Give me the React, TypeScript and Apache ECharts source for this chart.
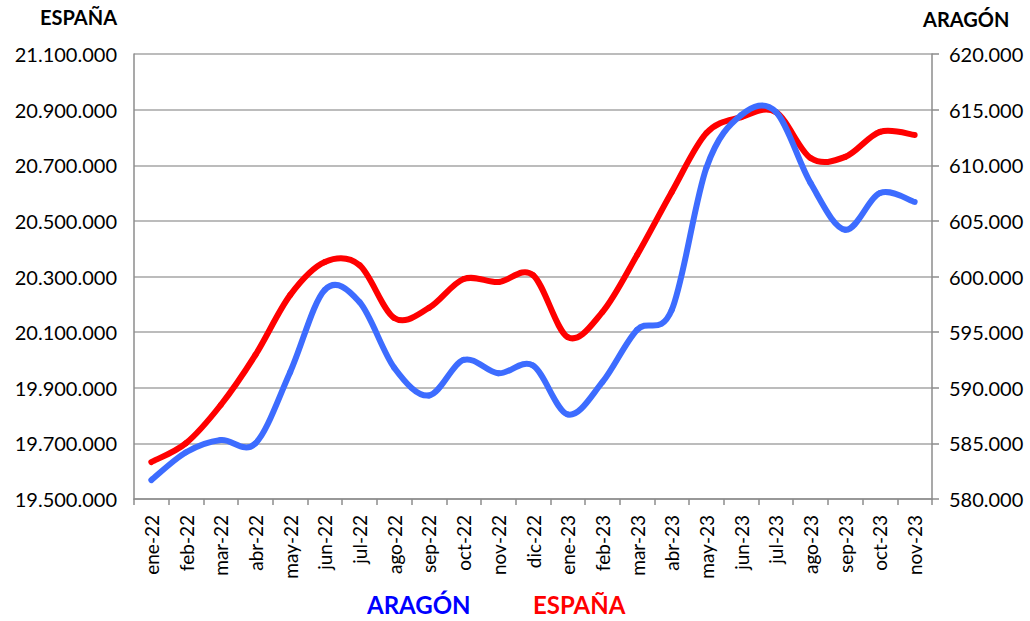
import React, { useEffect, useRef } from "react";
import * as echarts from "echarts";

const months = [
  "ene-22", "feb-22", "mar-22", "abr-22", "may-22", "jun-22", "jul-22", "ago-22",
  "sep-22", "oct-22", "nov-22", "dic-22", "ene-23", "feb-23", "mar-23", "abr-23",
  "may-23", "jun-23", "jul-23", "ago-23", "sep-23", "oct-23", "nov-23",
];

const espana = [
  19633000, 19701000, 19838000, 20018000, 20233000, 20352000, 20341000, 20151000,
  20187000, 20291000, 20280000, 20305000, 20082000, 20172000, 20377000, 20604000,
  20816000, 20873000, 20891000, 20726000, 20730000, 20820000, 20809000,
];

const aragon = [
  581700, 584200, 585300, 585000, 591400, 598800, 597700, 591800,
  589300, 592500, 591300, 592000, 587600, 590500, 595200, 597000,
  609800, 614500, 614800, 608400, 604200, 607500, 606700,
];

const leftAxisMin = 19500000;
const leftAxisMax = 21100000;
const leftAxisStep = 200000;
const rightAxisMin = 580000;
const rightAxisMax = 620000;
const rightAxisStep = 5000;

const fmt = (v: number) => String(Math.round(v)).replace(/\B(?=(\d{3})+(?!\d))/g, ".");

// Smoothed line (Catmull-Rom style, like a spreadsheet's smoothed line) drawn
// segment by segment through the axes' own coordinate mapping.
function smoothSeries(name: string, values: number[], color: string, yAxisIndex: number) {
  const n = values.length;
  return {
    name,
    type: "custom",
    yAxisIndex,
    data: values.map((v, i) => [i, v]),
    encode: { x: 0, y: 1 },
    renderItem: (params: any, api: any) => {
      const i = params.dataIndex;
      if (i >= n - 1) return { type: "group", children: [] };
      const pt = (k: number) => {
        const kk = Math.max(0, Math.min(n - 1, k));
        return api.coord([kk, values[kk]]);
      };
      const p0 = pt(i - 1);
      const p1 = pt(i);
      const p2 = pt(i + 1);
      const p3 = pt(i + 2);
      const t = 1 / 6;
      return {
        type: "bezierCurve",
        shape: {
          x1: p1[0],
          y1: p1[1],
          x2: p2[0],
          y2: p2[1],
          cpx1: p1[0] + (p2[0] - p0[0]) * t,
          cpy1: p1[1] + (p2[1] - p0[1]) * t,
          cpx2: p2[0] - (p3[0] - p1[0]) * t,
          cpy2: p2[1] - (p3[1] - p1[1]) * t,
        },
        style: { stroke: color, lineWidth: 6, fill: "none", lineCap: "round" },
      };
    },
  };
}

export default function App() {
  const ref = useRef<HTMLDivElement>(null);
  useEffect(() => {
    if (!ref.current) return;
    const chart = echarts.init(ref.current, null, { renderer: "svg" });
    const font = "Lato, 'Liberation Sans', sans-serif";
    chart.setOption({
      animation: false,
      backgroundColor: "#ffffff",
      textStyle: { fontFamily: font },
      grid: { left: 134, right: 98, top: 54, bottom: 122, containLabel: false },
      xAxis: {
        type: "category",
        data: months,
        boundaryGap: true,
        axisLine: { lineStyle: { color: "#8c8c8c", width: 1.5 } },
        axisTick: { show: true, length: 6, alignWithLabel: false, lineStyle: { color: "#8c8c8c", width: 1.5 } },
        axisLabel: { rotate: 90, color: "#000", fontSize: 19, fontFamily: font, margin: 16, interval: 0 },
      },
      yAxis: [
        {
          type: "value",
          position: "left",
          min: leftAxisMin,
          max: leftAxisMax,
          interval: leftAxisStep,
          axisLine: { show: true, lineStyle: { color: "#8c8c8c", width: 1.5 } },
          axisTick: { show: false },
          axisLabel: { color: "#000", fontSize: 20, fontFamily: font, margin: 17, formatter: fmt },
          splitLine: { show: true, lineStyle: { color: "#a6a6a6", width: 1.5 } },
        },
        {
          type: "value",
          position: "right",
          min: rightAxisMin,
          max: rightAxisMax,
          interval: rightAxisStep,
          axisLine: { show: true, lineStyle: { color: "#8c8c8c", width: 1.5 } },
          axisTick: { show: true, length: 7, lineStyle: { color: "#8c8c8c", width: 1.5 } },
          axisLabel: { color: "#000", fontSize: 20, fontFamily: font, margin: 17, formatter: fmt },
          splitLine: { show: false },
        },
      ],
      series: [
        smoothSeries("ESPAÑA", espana, "#ff0000", 0),
        smoothSeries("ARAGÓN", aragon, "#3d6cff", 1),
      ],
      graphic: [
        { type: "text", left: 40, top: 7, style: { text: "ESPAÑA", font: `bold 20px ${font}`, fill: "#000" } },
        { type: "text", left: 923, top: 9, style: { text: "ARAGÓN", font: `bold 20px ${font}`, fill: "#000" } },
        { type: "text", left: 367, top: 592, style: { text: "ARAGÓN", font: `bold 24px ${font}`, fill: "#0000ff" } },
        { type: "text", left: 533, top: 592, style: { text: "ESPAÑA", font: `bold 24px ${font}`, fill: "#ff0000" } },
      ],
    });
    return () => chart.dispose();
  }, []);
  return (
    <div
      ref={ref}
      style={{ position: "absolute", left: 0, top: 0, width: 1030, height: 621 }}
    />
  );
}
